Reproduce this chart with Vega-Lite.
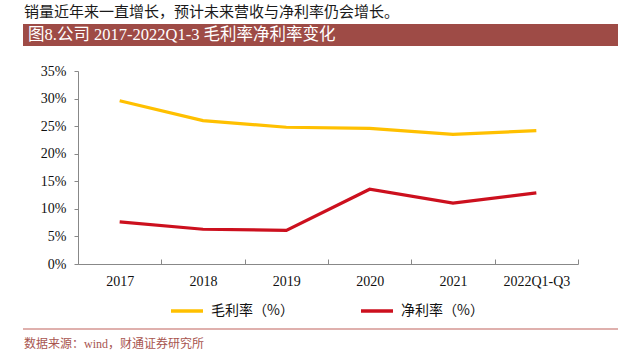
{
  "$schema": "https://vega.github.io/schema/vega-lite/v6.json",
  "width": 500,
  "height": 193,
  "autosize": {"type": "none"},
  "padding": {"left": 78, "top": 71, "right": 62, "bottom": 94},
  "background": "white",
  "config": {"view": {"stroke": null}},
  "layer": [
    {
      "data": {"values": [{"t": "销量近年来一直增长，预计未来营收与净利率仍会增长。"}]},
      "mark": {"type": "text", "align": "left", "baseline": "top", "font": "Noto Sans CJK SC", "fontSize": 15, "color": "#1a1a1a"},
      "encoding": {"text": {"field": "t"}, "x": {"value": -54}, "y": {"value": -66}}
    },
    {
      "data": {"values": [{"k": 1}]},
      "mark": {"type": "rect", "color": "#9E4B46"},
      "encoding": {"x": {"value": -55}, "x2": {"value": 540}, "y": {"value": -47}, "y2": {"value": -25}}
    },
    {
      "data": {"values": [{"t": "图8.公司 2017-2022Q1-3 毛利率净利率变化"}]},
      "mark": {"type": "text", "align": "left", "baseline": "middle", "font": "Liberation Serif, Noto Sans CJK SC", "fontSize": 16.5, "color": "white"},
      "encoding": {"text": {"field": "t"}, "x": {"value": -50}, "y": {"value": -36}}
    },
    {
      "data": {"values": [{"k": 1}]},
      "mark": {"type": "rule", "color": "#C0625C", "strokeWidth": 1.2},
      "encoding": {"x": {"value": -55}, "x2": {"value": 540}, "y": {"value": 258}}
    },
    {
      "data": {"values": [{"t": "数据来源：wind，财通证券研究所"}]},
      "mark": {"type": "text", "align": "left", "baseline": "middle", "font": "Liberation Serif, Noto Sans CJK SC", "fontSize": 12, "color": "#A8554F"},
      "encoding": {"text": {"field": "t"}, "x": {"value": -54}, "y": {"value": 273}}
    },
    {
      "data": {"values": [
        {"year": "2017", "series": "毛利率（%）", "value": 29.6},
        {"year": "2018", "series": "毛利率（%）", "value": 26.0},
        {"year": "2019", "series": "毛利率（%）", "value": 24.8},
        {"year": "2020", "series": "毛利率（%）", "value": 24.6},
        {"year": "2021", "series": "毛利率（%）", "value": 23.5},
        {"year": "2022Q1-Q3", "series": "毛利率（%）", "value": 24.2},
        {"year": "2017", "series": "净利率（%）", "value": 7.65},
        {"year": "2018", "series": "净利率（%）", "value": 6.3},
        {"year": "2019", "series": "净利率（%）", "value": 6.1},
        {"year": "2020", "series": "净利率（%）", "value": 13.55},
        {"year": "2021", "series": "净利率（%）", "value": 11.05},
        {"year": "2022Q1-Q3", "series": "净利率（%）", "value": 12.9}
      ]},
      "mark": {"type": "line", "strokeWidth": 3.2},
      "encoding": {
        "x": {
          "field": "year", "type": "ordinal", "sort": null,
          "scale": {"type": "band", "paddingInner": 0, "paddingOuter": 0},
          "axis": {
            "title": null, "labelAngle": 0, "tickBand": "extent", "tickSize": -5,
            "labelPadding": 15, "domainColor": "#888888", "tickColor": "#888888",
            "labelColor": "#111111", "labelFont": "Liberation Serif", "labelFontSize": 14
          }
        },
        "y": {
          "field": "value", "type": "quantitative",
          "scale": {"domain": [0, 35], "nice": false},
          "axis": {
            "title": null, "grid": false, "values": [0, 5, 10, 15, 20, 25, 30, 35],
            "labelExpr": "datum.value + '%'", "tickSize": 4, "labelPadding": 8,
            "domainColor": "#888888", "tickColor": "#888888",
            "labelColor": "#111111", "labelFont": "Liberation Serif", "labelFontSize": 14
          }
        },
        "color": {
          "field": "series", "type": "nominal",
          "scale": {"domain": ["毛利率（%）", "净利率（%）"], "range": ["#FFC000", "#CC101E"]},
          "legend": {
            "title": null, "orient": "none", "direction": "horizontal",
            "legendX": 91, "legendY": 222,
            "symbolType": "stroke", "symbolSize": 1024, "symbolStrokeWidth": 3.5,
            "labelOffset": 6, "columnPadding": 60,
            "labelFont": "Noto Sans CJK SC", "labelFontSize": 14, "labelColor": "#111111"
          }
        }
      }
    }
  ]
}
